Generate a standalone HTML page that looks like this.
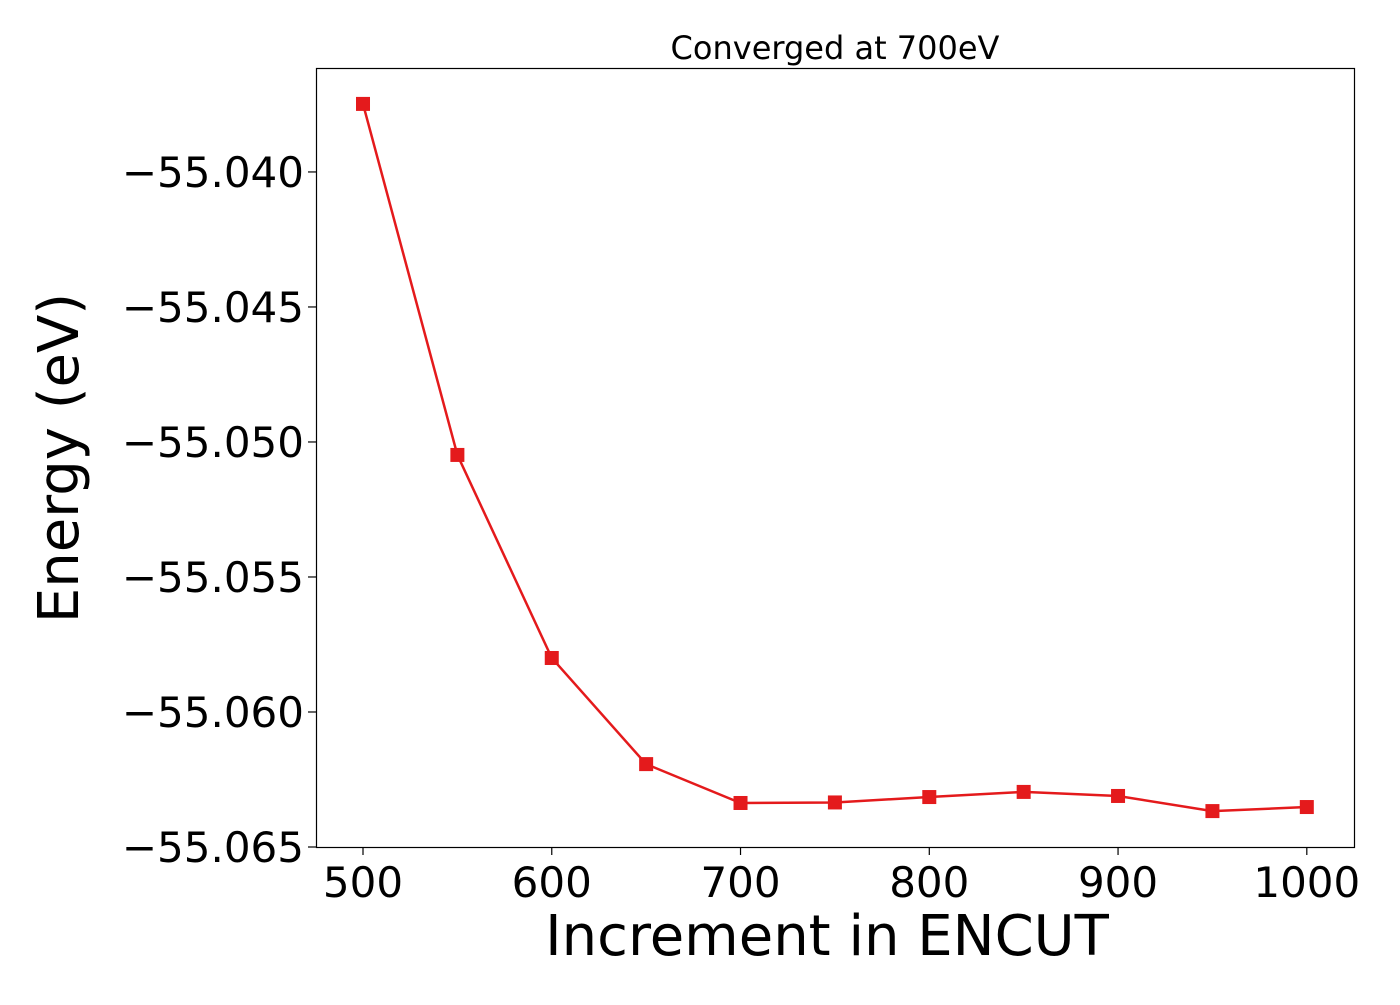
<!DOCTYPE html>
<html><head><meta charset="utf-8"><style>
body{margin:0;background:#fff;}
svg text{font-family:"DejaVu Sans","Liberation Sans",sans-serif;fill:#000;}
</style></head><body>
<svg id="chart" width="1400" height="1000" xmlns="http://www.w3.org/2000/svg">
<text x="835" y="59" font-size="32" text-anchor="middle">Converged at 700eV</text>
<g id="xticks"></g><g id="yticks"></g>
<g id="series"></g>
<rect x="316.5" y="68.5" width="1038" height="779" fill="none" stroke="#000" stroke-width="1.2"/>
<text x="827" y="955" font-size="56" text-anchor="middle">Increment in ENCUT</text>
<text transform="translate(78,458) rotate(-90)" font-size="56" text-anchor="middle">Energy (eV)</text>
</svg>
<script>
const categories=[500,550,600,650,700,750,800,850,900,950,1000];
const energies=[-55.03748,-55.05048,-55.05800,-55.06193,-55.06337,-55.06335,-55.06315,-55.06296,-55.06311,-55.06367,-55.06352];
const xTickValues=[500,600,700,800,900,1000];
const yTickValues=[-55.040,-55.045,-55.050,-55.055,-55.060,-55.065];
const yTickLabels=["\u221255.040","\u221255.045","\u221255.050","\u221255.055","\u221255.060","\u221255.065"];
const NS="http://www.w3.org/2000/svg";
const L=316,R=1354,T=68,B=847,xmin=475.1,xmax=1025,ymin=-55.065,ymax=-55.03615;
const xs=v=>L+(v-xmin)/(xmax-xmin)*(R-L);
const ys=v=>B-(v-ymin)/(ymax-ymin)*(B-T);
function mk(t,a,p){const e=document.createElementNS(NS,t);for(const k in a)e.setAttribute(k,a[k]);p.appendChild(e);return e;}
const xg=document.getElementById('xticks');
xTickValues.forEach(v=>{
 const l=mk('line',{x1:xs(v),x2:xs(v),y1:B,y2:B+8,stroke:'#000','stroke-width':1.2},xg);
 
 
 const t=mk('text',{x:xs(v),y:B+50,'font-size':42,'text-anchor':'middle'},xg);t.textContent=v;
 
 
});
const yg=document.getElementById('yticks');
yTickValues.forEach((v,i)=>{
 const l=mk('line',{x1:L-8,x2:L,y1:ys(v),y2:ys(v),stroke:'#000','stroke-width':1.2},yg);
 
 
 const t=mk('text',{x:L-12,y:ys(v)+15,'font-size':42,'text-anchor':'end'},yg);t.textContent=yTickLabels[i];
 
 
});
const sg=document.getElementById('series');
const pl=mk('polyline',{points:categories.map((c,i)=>xs(c)+','+ys(energies[i])).join(' '),fill:'none',stroke:'#e41a1c','stroke-width':2.5},sg);


categories.forEach((c,i)=>{
 const r=mk('rect',{x:xs(c)-7,y:ys(energies[i])-7,width:14,height:14,fill:'#e41a1c'},sg);
 
 
});
</script>
</body></html>
